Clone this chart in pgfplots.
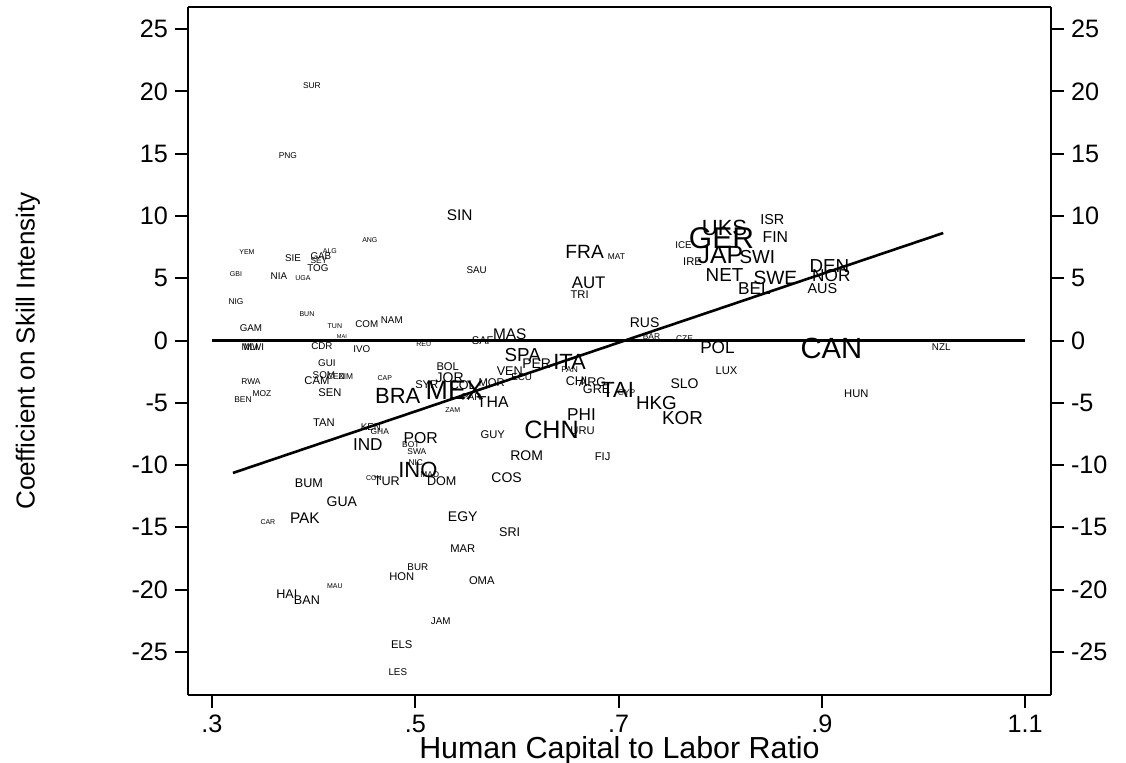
\documentclass[border=0pt]{standalone}
\usepackage{pgfplots}
\pgfplotsset{compat=1.18}
\usepackage{pgfplotstable}
\usepackage{fontspec}
\setmainfont{Liberation Sans}
\newcommand\lbl[2]{{\fontsize{#1}{#1}\selectfont #2}}

\pgfplotstableread{
x y lab
0.3983 20.43 \lbl{4.2}{SUR}
0.3747 14.81 \lbl{4.2}{PNG}
0.3344 7.10 \lbl{3.5}{YEM}
0.4553 8.07 \lbl{3.5}{ANG}
0.3796 6.62 \lbl{4.9}{SIE}
0.4071 6.78 \lbl{4.9}{GAB}
0.4160 7.18 \lbl{3.5}{ALG}
0.4052 6.38 \lbl{4.2}{SEY}
0.4042 5.82 \lbl{4.9}{TOG}
0.3236 5.34 \lbl{3.5}{GBI}
0.3658 5.18 \lbl{4.9}{NIA}
0.3894 5.02 \lbl{3.5}{UGA}
0.3236 3.09 \lbl{4.2}{NIG}
0.3934 2.13 \lbl{3.5}{BUN}
0.3383 1.00 \lbl{4.9}{GAM}
0.4209 1.16 \lbl{3.5}{TUN}
0.4523 1.32 \lbl{4.9}{COM}
0.4769 1.65 \lbl{4.9}{NAM}
0.4278 0.28 \lbl{2.8}{MAI}
0.3373 -0.52 \lbl{4.9}{MLI}
0.3413 -0.52 \lbl{4.9}{MWI}
0.4081 -0.44 \lbl{4.9}{CDR}
0.4474 -0.68 \lbl{4.9}{IVO}
0.5084 -0.28 \lbl{3.5}{REU}
0.5437 10.07 \lbl{7.7}{SIN}
0.5604 5.66 \lbl{4.9}{SAU}
0.5663 -0.04 \lbl{5.6}{SAF}
0.5929 0.52 \lbl{7.7}{MAS}
0.6666 7.10 \lbl{9.6}{FRA}
0.6980 6.70 \lbl{4.2}{MAT}
0.6705 4.61 \lbl{8.4}{AUT}
0.6617 3.65 \lbl{5.6}{TRI}
0.7256 1.40 \lbl{7.0}{RUS}
0.7324 0.28 \lbl{4.2}{BAR}
0.7649 0.12 \lbl{4.2}{CZE}
0.7973 -0.60 \lbl{8.6}{POL}
0.8061 -2.45 \lbl{5.6}{LUX}
0.7649 -3.49 \lbl{7.0}{SLO}
0.7373 -5.02 \lbl{9.4}{HKG}
0.7629 -6.22 \lbl{9.4}{KOR}
0.6587 -3.25 \lbl{6.3}{CHI}
0.6744 -3.33 \lbl{6.3}{ARG}
0.6784 -3.89 \lbl{6.3}{GRE}
0.6990 -3.97 \lbl{11.0}{TAI}
0.7079 -4.21 \lbl{4.2}{CYP}
0.6636 -5.98 \lbl{8.6}{PHI}
0.6646 -7.26 \lbl{5.6}{URU}
0.6341 -7.18 \lbl{12.6}{CHN}
0.6843 -9.35 \lbl{5.6}{FIJ}
0.6096 -9.27 \lbl{7.0}{ROM}
0.5899 -11.04 \lbl{7.0}{COS}
0.5762 -7.58 \lbl{5.6}{GUY}
0.5762 -4.94 \lbl{7.9}{THA}
0.5369 -5.58 \lbl{3.5}{ZAM}
0.5555 -4.53 \lbl{4.9}{PAR}
0.5388 -3.97 \lbl{13.4}{MEX}
0.5467 -3.57 \lbl{6.3}{COL}
0.5339 -3.01 \lbl{7.0}{JOR}
0.5319 -2.13 \lbl{5.6}{BOL}
0.5752 -3.41 \lbl{5.6}{MOR}
0.6047 -2.93 \lbl{4.9}{ECU}
0.5929 -2.45 \lbl{6.3}{VEN}
0.6194 -1.89 \lbl{7.0}{PER}
0.6057 -1.16 \lbl{9.4}{SPA}
0.6518 -1.73 \lbl{11.0}{ITA}
0.6518 -2.37 \lbl{4.2}{PAN}
0.5113 -3.57 \lbl{5.6}{SYR}
0.4828 -4.45 \lbl{11.0}{BRA}
0.4700 -3.01 \lbl{3.5}{CAP}
0.4130 -1.81 \lbl{4.9}{GUI}
0.4101 -2.77 \lbl{4.9}{SOM}
0.4032 -3.25 \lbl{5.6}{CAM}
0.4219 -2.93 \lbl{4.2}{CEN}
0.4317 -2.93 \lbl{4.2}{ZIM}
0.3383 -3.33 \lbl{4.2}{RWA}
0.3491 -4.29 \lbl{4.2}{MOZ}
0.3305 -4.78 \lbl{4.2}{BEN}
0.4160 -4.21 \lbl{5.6}{SEN}
0.4101 -6.62 \lbl{5.6}{TAN}
0.4563 -6.94 \lbl{4.9}{KEN}
0.4651 -7.34 \lbl{4.2}{GHA}
0.5054 -7.82 \lbl{7.9}{POR}
0.4533 -8.38 \lbl{8.6}{IND}
0.4956 -8.38 \lbl{4.2}{BOT}
0.5015 -8.95 \lbl{4.2}{SWA}
0.5005 -9.83 \lbl{4.2}{NIC}
0.5025 -10.39 \lbl{11.0}{INO}
0.5143 -10.79 \lbl{4.2}{MAD}
0.5260 -11.28 \lbl{6.3}{DOM}
0.4592 -11.04 \lbl{3.5}{CON}
0.4720 -11.28 \lbl{6.3}{TUR}
0.3953 -11.44 \lbl{6.3}{BUM}
0.4278 -12.96 \lbl{7.0}{GUA}
0.3914 -14.25 \lbl{7.7}{PAK}
0.3550 -14.57 \lbl{3.5}{CAR}
0.5467 -14.17 \lbl{7.0}{EGY}
0.5929 -15.37 \lbl{6.3}{SRI}
0.5467 -16.73 \lbl{5.6}{MAR}
0.5025 -18.18 \lbl{4.9}{BUR}
0.4867 -18.98 \lbl{5.6}{HON}
0.4209 -19.70 \lbl{3.5}{MAU}
0.5654 -19.30 \lbl{5.6}{OMA}
0.3737 -20.35 \lbl{6.3}{HAI}
0.3934 -20.83 \lbl{6.3}{BAN}
0.5251 -22.51 \lbl{4.9}{JAM}
0.4867 -24.43 \lbl{5.6}{ELS}
0.4828 -26.60 \lbl{4.9}{LES}
0.8042 9.03 \lbl{11.0}{UKS}
0.8012 8.23 \lbl{15.0}{GER}
0.8513 9.75 \lbl{7.2}{ISR}
0.8543 8.31 \lbl{7.9}{FIN}
0.7639 7.66 \lbl{4.9}{ICE}
0.8002 6.86 \lbl{12.4}{JAP}
0.8366 6.70 \lbl{9.4}{SWI}
0.7727 6.30 \lbl{5.6}{IRE}
0.8042 5.26 \lbl{9.4}{NET}
0.8543 5.02 \lbl{9.6}{SWE}
0.8337 4.13 \lbl{8.6}{BEL}
0.9074 5.98 \lbl{9.4}{DEN}
0.9093 5.18 \lbl{8.6}{NOR}
0.9005 4.21 \lbl{7.2}{AUS}
0.9093 -0.60 \lbl{14.6}{CAN}
1.0174 -0.52 \lbl{4.9}{NZL}
0.9339 -4.29 \lbl{5.6}{HUN}
}\countries

\pgfplotstableread{
x y
0.3206 -10.63
0.4000 -8.44
0.5000 -5.69
0.6000 -2.93
0.7000 -0.17
0.8000 2.58
0.9000 5.34
1.0194 8.63
}\fitline

\begin{document}
\begin{tikzpicture}
\begin{axis}[
  name=main,
  scale only axis,
  width=431.5pt, height=344pt,
  xmin=0.2764, xmax=1.1254,
  ymin=-28.45, ymax=26.77,
  axis x line*=bottom,
  axis y line*=left,
  axis line style={line width=1.3pt, black},
  xtick={0.3,0.5,0.7,0.9,1.1},
  xticklabels={.3,.5,.7,.9,1.1},
  ytick={-25,-20,...,25},
  tick align=outside,
  major tick length=6.5pt,
  tick style={line width=1pt, black},
  ticklabel style={font=\fontsize{12.6}{14}\selectfont},
  /pgf/number format/assume math mode=true,
  xlabel={Human Capital to Labor Ratio},
  ylabel={Coefficient on Skill Intensity},
  every axis x label/.style={at={(axis description cs:0.5,0)}, anchor=center, yshift=-28pt, font=\fontsize{15.2}{17}\selectfont},
  every axis y label/.style={at={(axis description cs:0,0.5)}, anchor=center, rotate=90, yshift=80pt, font=\fontsize{13}{15}\selectfont},
  clip=false,
]
\addplot[black, line width=1.3pt] coordinates {(0.3,0) (1.1,0)};
\addplot[black, line width=1.3pt] table[x=x,y=y] {\fitline};
\addplot[only marks, mark=none,
  nodes near coords,
  point meta=explicit symbolic,
  every node near coord/.append style={anchor=center, inner sep=0pt, black},
] table[x=x, y=y, meta=lab] {\countries};
\end{axis}
\begin{axis}[
  scale only axis,
  width=431.5pt, height=344pt,
  xmin=0.2764, xmax=1.1254,
  ymin=-28.45, ymax=26.77,
  axis x line*=top,
  axis y line*=right,
  axis line style={line width=0.7pt, black},
  xtick=\empty,
  ytick={-25,-20,...,25},
  tick align=outside,
  major tick length=6.5pt,
  tick style={line width=1pt, black},
  ticklabel style={font=\fontsize{12.6}{14}\selectfont},
  /pgf/number format/assume math mode=true,
]
\end{axis}
\pgfresetboundingbox
\path (main.south west) ++(-94pt,-34pt) rectangle ++(563pt,381.5pt);
\end{tikzpicture}
\end{document}
